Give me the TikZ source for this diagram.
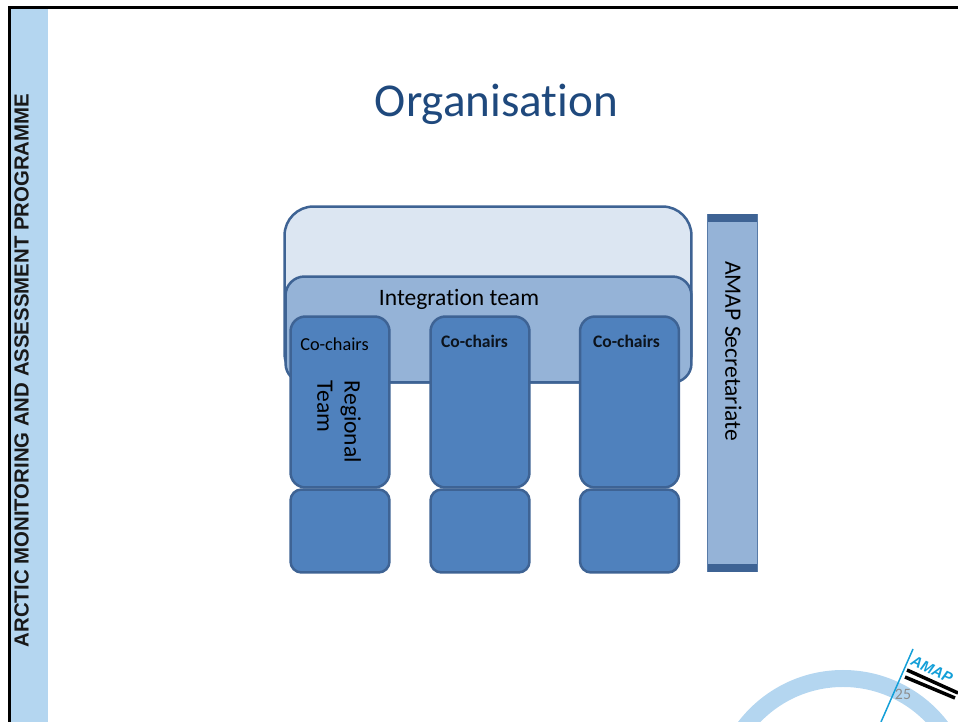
\documentclass[tikz,border=0pt]{standalone}
\usepackage{fontspec}
\setmainfont[Ligatures=NoCommon]{Carlito}
\newfontfamily\bandfont{Liberation Sans}
\definecolor{band_blue}{HTML}{B4D6F0}
\definecolor{title_blue}{HTML}{1F497D}
\definecolor{pale_fill}{HTML}{DCE6F2}
\definecolor{mid_fill}{HTML}{95B3D7}
\definecolor{team_fill}{HTML}{4F81BD}
\definecolor{edge_blue}{HTML}{3E6394}
\definecolor{logo_blue}{HTML}{139FD8}
\tikzset{
	box/.style={draw=edge_blue, line width=0.05cm, shape=rectangle, inner sep=0pt},
	team/.style={box, fill=team_fill, minimum width=1.98cm, minimum height=3.42cm, rounded corners=0.3cm},
	foot/.style={box, fill=team_fill, minimum width=1.98cm, minimum height=1.66cm, rounded corners=0.22cm},
	cap_bar/.style={draw=none, fill=edge_blue, shape=rectangle, inner sep=0pt, minimum width=0.98cm, minimum height=0.16cm},
	plain_text/.style={text=black, inner sep=0pt},
	chairs/.style={plain_text, font=\fontsize{10.4}{12}\selectfont},
	chairs_bold/.style={plain_text, font=\fontsize{10}{12}\selectfont\bfseries, text=black!85!team_fill},
	big_text/.style={plain_text, font=\fontsize{13.4}{15.5}\selectfont},
}
\begin{document}
\begin{tikzpicture}[x=0.02cm, y=-0.02cm]
	\useasboundingbox (0,0) rectangle (958,722);
	\clip (0,0) rectangle (958,722);

	% frame and band
	\fill[band_blue] (11,8) rectangle (48,722);
	\draw[black, line width=0.06cm] (9.5,722) -- (9.5,8) -- (958,8);
	\node[rotate=90, inner sep=0pt, font=\fontsize{11.6}{13}\selectfont\bandfont\bfseries, text=black!90] (band_text) at (21.5,370.5) {ARCTIC MONITORING AND ASSESSMENT PROGRAMME};

	\node[text=title_blue, inner sep=0pt, font=\fontsize{26.8}{30}\selectfont] (title) at (496.5,104) {Organisation};

	% panels
	\node[box, fill=pale_fill, minimum width=8.14cm, minimum height=3.52cm, rounded corners=0.58cm] (outer) at (488,294.5) {};
	\node[box, fill=mid_fill, minimum width=8.12cm, minimum height=2.12cm, rounded corners=0.38cm] (integration) at (488.5,329.5) {};
	\node[big_text] (integration_label) at (459,299) {Integration team};

	% teams
	\node[team] (team_1) at (340,402) {};
	\node[team] (team_2) at (480,402) {};
	\node[team] (team_3) at (629.5,402) {};
	\node[foot] (foot_1) at (340,531) {};
	\node[foot] (foot_2) at (480,531) {};
	\node[foot] (foot_3) at (629.5,531) {};

	\node[chairs] (chairs_1) at (334.5,344.5) {Co-chairs};
	\node[chairs_bold] (chairs_2) at (474.5,341) {Co-chairs};
	\node[chairs_bold] (chairs_3) at (626.5,341) {Co-chairs};
	\node[big_text, rotate=-90, align=left] (team_label) at (339,422) {Regional\\Team};

	% secretariat
	\node[draw=edge_blue!70!mid_fill, line width=0.02cm, fill=mid_fill, shape=rectangle, inner sep=0pt, minimum width=1cm, minimum height=7.16cm] (secretariat) at (732.5,393) {};
	\node[cap_bar] (cap_top) at (732.5,218) {};
	\node[cap_bar] (cap_bottom) at (732.5,568) {};
	\node[big_text, rotate=-90] (secretariat_label) at (733.5,351) {AMAP Secretariate};

	% logo
	\draw[band_blue, line width=0.34cm] (843,802) circle (123.5);
	\draw[logo_blue, line width=0.03cm] (913,649) -- (881,722);
	\draw[black, line width=0.07cm] (907,670) -- (958,693);
	\draw[black, line width=0.07cm] (905,677) -- (955,698);
	\node[rotate=-25, inner sep=0pt, text=logo_blue, font=\fontsize{8.5}{9}\selectfont\bandfont\bfseries\itshape] (logo_text) at (932,669.5) {AMAP};
	\node[inner sep=0pt, text=black!45, font=\fontsize{9}{10}\selectfont] (page_number) at (903,694) {25};
\end{tikzpicture}
\end{document}
